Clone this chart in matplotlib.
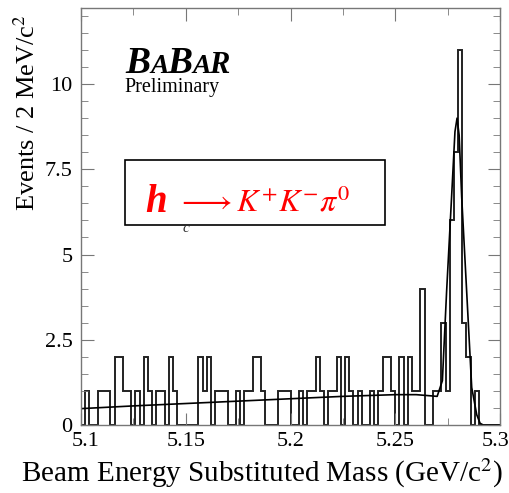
"""
h_c -> K+K-pi0 candidate mass plot (BaBar preliminary style).
"""

import numpy as np
import matplotlib.pyplot as plt
import matplotlib.transforms as mtransforms
from matplotlib.patches import Rectangle
from matplotlib.ticker import MultipleLocator

plt.rcParams['font.family'] = ['Liberation Serif', 'DejaVu Serif']
plt.rcParams['mathtext.fontset'] = 'stix'

# events per 2 MeV bin, 5.100 - 5.300 GeV
mass_lo, mass_hi, n_bins = 5.1, 5.3, 100
counts = [0, 1, 0, 0, 1, 1, 1, 0, 2, 2,
          1, 1, 0, 1, 0, 2, 1, 0, 1, 1,
          0, 2, 1, 0, 0, 0, 0, 0, 2, 1,
          2, 0, 1, 1, 1, 0, 0, 1, 0, 1,
          1, 2, 2, 1, 0, 0, 0, 1, 1, 1,
          0, 0, 1, 0, 1, 1, 2, 1, 0, 1,
          1, 2, 0, 2, 1, 0, 1, 0, 0, 1,
          0, 1, 2, 2, 1, 0, 2, 0, 2, 1,
          1, 4, 0, 0, 1, 1, 3, 1, 6, 8,
          11, 3, 2, 0, 1, 0, 0, 0, 0, 0]

# fitted curve (background + signal)
fit_mass = [5.100, 5.125, 5.150, 5.175, 5.200, 5.225, 5.250, 5.260, 5.266,
            5.270, 5.2725, 5.2745, 5.2769, 5.2785, 5.2795, 5.2805, 5.2817,
            5.2841, 5.2865, 5.2889, 5.2905, 5.292, 5.300]
fit_value = [0.48, 0.56, 0.63, 0.70, 0.77, 0.84, 0.89, 0.89, 0.86,
             0.84, 1.3, 3.9, 6.7, 8.6, 9.0, 8.5, 6.7,
             3.9, 1.1, 0.3, 0.05, 0.0, 0.0]

x_ticks = [5.1, 5.15, 5.2, 5.25, 5.3]
x_tick_labels = ['5.1', '5.15', '5.2', '5.25', '5.3']
y_ticks = [0, 2.5, 5, 7.5, 10]
y_tick_labels = ['0', '2.5', '5', '7.5', '10']

W, H = 510, 493
fig = plt.figure(figsize=(W / 100, H / 100), dpi=100)
ax = fig.add_axes([81 / W, 1 - 425 / H, 419 / W, 417 / H])

edges = np.linspace(mass_lo, mass_hi, n_bins + 1)
ax.stairs(counts, edges, color='#222222', linewidth=1.4)
ax.plot(fit_mass, fit_value, color='black', linewidth=1.2)

ax.set_xlim(mass_lo, mass_hi)
ax.set_ylim(0, 12.23)
ax.xaxis.set_minor_locator(MultipleLocator(0.025))
ax.yaxis.set_minor_locator(MultipleLocator(0.5))
ax.set_xticks(x_ticks)
ax.set_xticklabels(x_tick_labels)
ax.set_yticks(y_ticks)
ax.set_yticklabels(y_tick_labels)
ax.tick_params(which='both', direction='in', top=True, right=True,
               color='#777777', labelsize=16)
ax.tick_params(which='major', length=9)
ax.tick_params(which='minor', length=5)
ax.tick_params(axis='x', pad=5)
ax.tick_params(axis='y', pad=6)
for s in ax.spines.values():
    s.set_color('#777777')
    s.set_linewidth(1.0)

# nudge the end labels like in the original
xlabels = ax.get_xticklabels()
for lab, dx in ((xlabels[0], 5), (xlabels[-1], -4)):
    lab.set_transform(lab.get_transform() +
                      mtransforms.ScaledTranslation(dx / 100, 0, fig.dpi_scale_trans))

ax.set_xlabel('Beam Energy Substituted Mass (GeV/c$^2$)', fontsize=21)
ax.xaxis.set_label_coords(0.432, -0.075)
ax.set_ylabel('Events / 2 MeV/c$^2$', fontsize=19)
ax.yaxis.set_label_coords(-0.098, 0.75)

def fx(px):
    return px / W

def fy(py):
    return 1 - py / H

# BaBar logo
logo = [('B', 27, 125), ('A', 20, 150), ('B', 27, 167), ('A', 20, 192), ('R', 22, 209)]
for letter, size, px in logo:
    fig.text(fx(px), fy(73), letter, fontsize=size, fontweight='bold',
             fontstyle='italic', va='baseline', ha='left')
fig.text(fx(124), fy(92), 'Preliminary', fontsize=14.5, va='baseline', ha='left')

# decay label box
fig.add_artist(Rectangle((fx(125), fy(225)), (385 - 125) / W, (225 - 160) / H,
                         transform=fig.transFigure, facecolor='white',
                         edgecolor='black', linewidth=1.2))
fig.text(fx(145), fy(212), 'h', fontsize=28, fontweight='bold', fontstyle='italic',
         color='#ff0000', va='baseline', ha='left')
fig.text(fx(183), fy(232), 'c', fontsize=11, fontstyle='italic',
         color='#333333', va='baseline', ha='left')
fig.text(fx(177), fy(212), r'$\longrightarrow K^{+}K^{-}\pi^{0}$', fontsize=23,
         color='#ff0000', va='baseline', ha='left')

fig.savefig('out.png', dpi=100)
